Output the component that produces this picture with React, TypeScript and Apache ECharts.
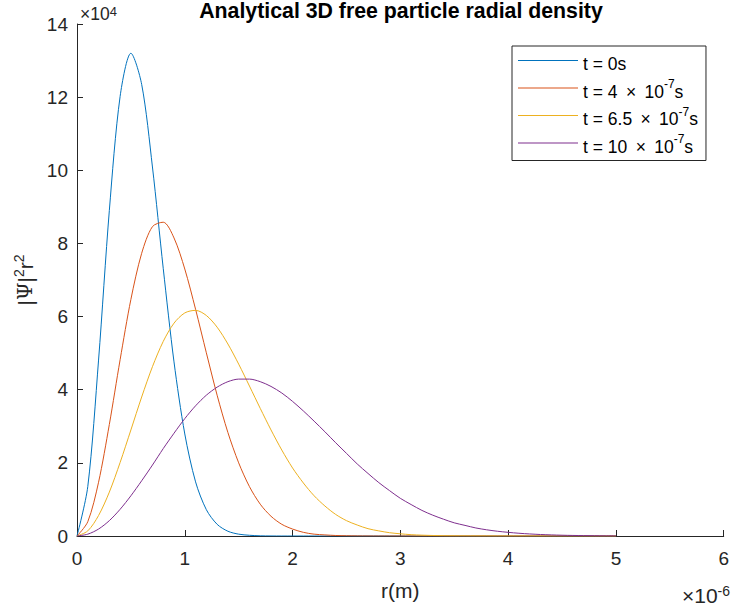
import React, { useEffect, useRef } from "react";
import * as echarts from "echarts";

// r in units of 1e-6 m
const rValues = [
  0, 0.1, 0.2, 0.3, 0.4, 0.5, 0.6, 0.7, 0.8, 0.9,
  1.0, 1.1, 1.2, 1.3, 1.4, 1.5, 1.6, 1.7, 1.8, 1.9,
  2.0, 2.1, 2.2, 2.3, 2.4, 2.5, 2.6, 2.7, 2.8, 2.9,
  3.0, 3.1, 3.2, 3.3, 3.4, 3.5, 3.6, 3.7, 3.8, 3.9,
  4.0, 4.1, 4.2, 4.3, 4.4, 4.5, 4.6, 4.7, 4.8, 4.9, 5.0,
];

// |Psi|^2 r^2 in units of 1e4
const densityT0 = [
  0, 1.35, 4.81, 8.9, 12.02, 13.2, 12.35, 10.09, 7.32, 4.76,
  2.79, 1.48, 0.72, 0.32, 0.13, 0.05, 0.02, 0.005, 0.001, 0,
  0, 0, 0, 0, 0, 0, 0, 0, 0, 0,
  0, 0, 0, 0, 0, 0, 0, 0, 0, 0,
  0, 0, 0, 0, 0, 0, 0, 0, 0, 0, 0,
];
const densityT4 = [
  0, 0.39, 1.47, 3.05, 4.82, 6.47, 7.73, 8.46, 8.58, 8.15,
  7.3, 6.2, 5.01, 3.85, 2.83, 2.0, 1.35, 0.87, 0.54, 0.32,
  0.19, 0.1, 0.05, 0.03, 0.014, 0.007, 0.003, 0.001, 0, 0,
  0, 0, 0, 0, 0, 0, 0, 0, 0, 0,
  0, 0, 0, 0, 0, 0, 0, 0, 0, 0, 0,
];
const densityT65 = [
  0, 0.14, 0.56, 1.2, 2.01, 2.9, 3.8, 4.63, 5.32, 5.82,
  6.1, 6.17, 6.03, 5.71, 5.25, 4.7, 4.1, 3.49, 2.9, 2.35,
  1.86, 1.45, 1.1, 0.82, 0.59, 0.42, 0.3, 0.2, 0.14, 0.09,
  0.06, 0.036, 0.023, 0.014, 0.008, 0.005, 0.003, 0.002, 0.001, 0,
  0, 0, 0, 0, 0, 0, 0, 0, 0, 0, 0,
];
const densityT10 = [
  0, 0.05, 0.19, 0.42, 0.73, 1.1, 1.51, 1.94, 2.39, 2.81,
  3.21, 3.56, 3.85, 4.07, 4.22, 4.29, 4.29, 4.22, 4.09, 3.91,
  3.68, 3.42, 3.14, 2.85, 2.55, 2.26, 1.97, 1.71, 1.46, 1.24,
  1.03, 0.86, 0.7, 0.57, 0.46, 0.36, 0.29, 0.22, 0.17, 0.13,
  0.1, 0.075, 0.056, 0.041, 0.03, 0.021, 0.015, 0.011, 0.008, 0.005, 0.004,
];

const seriesNames = ["t = 0s", "t = 4 × 10^-7s", "t = 6.5 × 10^-7s", "t = 10 × 10^-7s"];
const legendRich = [
  "{n|t = 0s}",
  "{n|t = 4 \u2009×\u2009 10}{sup|-7}{n|s}",
  "{n|t = 6.5 \u2009×\u2009 10}{sup|-7}{n|s}",
  "{n|t = 10 \u2009×\u2009 10}{sup|-7}{n|s}",
];
const seriesValues = [densityT0, densityT4, densityT65, densityT10];
const COLORS = ["#0072BD", "#D95319", "#EDB120", "#7E2F8E"];

const FONT = "'Liberation Sans', Arial, Helvetica, sans-serif";
const INK = "#262626";

export default function App() {
  const ref = useRef<HTMLDivElement>(null);

  useEffect(() => {
    if (!ref.current) return;
    const chart = echarts.init(ref.current, null, { renderer: "svg" });

    const series = seriesNames.map((name, k) => ({
      name,
      type: "line",
      data: rValues.map((r, i) => [r, seriesValues[k][i]]),
      symbol: "none",
      showSymbol: false,
      smooth: 0.3,
      lineStyle: { width: 1, color: COLORS[k] },
      itemStyle: { color: COLORS[k] },
      z: 2 + k,
    }));

    chart.setOption({
      animation: false,
      backgroundColor: "#ffffff",
      title: {
        text: "Analytical 3D free particle radial density",
        left: 401,
        top: 0,
        textAlign: "center",
        padding: 0,
        textStyle: { fontFamily: FONT, fontSize: 21.3, fontWeight: "bold", color: "#000000" },
      },
      grid: { left: 77, right: 7, top: 24, bottom: 72, containLabel: false },
      legend: {
        orient: "vertical",
        left: 512,
        top: 46,
        padding: [2, 8, 5, 6],
        icon: "rect",
        itemWidth: 60,
        itemHeight: 1,
        itemGap: 2.5,
        itemStyle: { borderWidth: 0 },
        backgroundColor: "#ffffff",
        borderColor: INK,
        borderWidth: 1,
        borderRadius: 0,
        data: seriesNames,
        formatter: (name: string) => legendRich[seriesNames.indexOf(name)],
        textStyle: {
          fontFamily: FONT,
          color: "#000000",
          rich: {
            n: { fontFamily: FONT, fontSize: 17.5, lineHeight: 19, padding: [7, 0, 0, 0], color: "#000000" },
            sup: { fontFamily: FONT, fontSize: 12, lineHeight: 20, verticalAlign: "top", color: "#000000" },
          },
        },
      },
      xAxis: {
        type: "value",
        min: 0,
        max: 6,
        interval: 1,
        name: "r(m)",
        nameLocation: "middle",
        nameGap: 44,
        nameTextStyle: { fontFamily: FONT, fontSize: 21, color: INK },
        axisLine: { show: true, onZero: false, lineStyle: { color: INK, width: 1 } },
        axisTick: { show: true, inside: true, length: 6, lineStyle: { color: INK, width: 1 } },
        axisLabel: { color: INK, fontSize: 19, fontFamily: FONT, margin: 13 },
        splitLine: { show: false },
      },
      yAxis: {
        type: "value",
        min: 0,
        max: 14,
        interval: 2,
        name: "{n||}{psi|Ψ}{n||}{sup|2}{n|r}{sup|2}",
        nameLocation: "middle",
        nameGap: 36,
        nameTextStyle: {
          fontFamily: FONT,
          fontSize: 21,
          color: INK,
          rich: {
            n: { fontFamily: FONT, fontSize: 21, lineHeight: 26, color: INK },
            psi: { fontFamily: "'DejaVu Serif', 'Liberation Serif', serif", fontSize: 20, lineHeight: 26, color: INK },
            sup: { fontFamily: FONT, fontSize: 14, lineHeight: 6, verticalAlign: "top", color: INK },
          },
        },
        axisLine: { show: true, onZero: false, lineStyle: { color: INK, width: 1 } },
        axisTick: { show: true, inside: true, length: 6, lineStyle: { color: INK, width: 1 } },
        axisLabel: { color: INK, fontSize: 19, fontFamily: FONT, margin: 9 },
        splitLine: { show: false },
      },
      graphic: [
        {
          type: "text",
          x: 80,
          y: 14,
          silent: true,
          style: {
            text: "{n|×10}{sup|4}",
            align: "left",
            verticalAlign: "middle",
            rich: {
              n: { fontFamily: FONT, fontSize: 17.5, lineHeight: 18, fill: INK },
              sup: { fontFamily: FONT, fontSize: 13, lineHeight: 6, verticalAlign: "top", fill: INK },
            },
          },
        },
        {
          type: "text",
          x: 730,
          y: 595,
          silent: true,
          style: {
            text: "{n|×10}{sup|-6}",
            align: "right",
            verticalAlign: "middle",
            rich: {
              n: { fontFamily: FONT, fontSize: 21, lineHeight: 22, fill: INK },
              sup: { fontFamily: FONT, fontSize: 14, lineHeight: 2, verticalAlign: "top", fill: INK },
            },
          },
        },
      ],
      series,
    });

    return () => {
      chart.dispose();
    };
  }, []);

  return (
    <div
      ref={ref}
      style={{ position: "fixed", left: 0, top: 0, width: 732, height: 608, background: "#ffffff" }}
    />
  );
}
